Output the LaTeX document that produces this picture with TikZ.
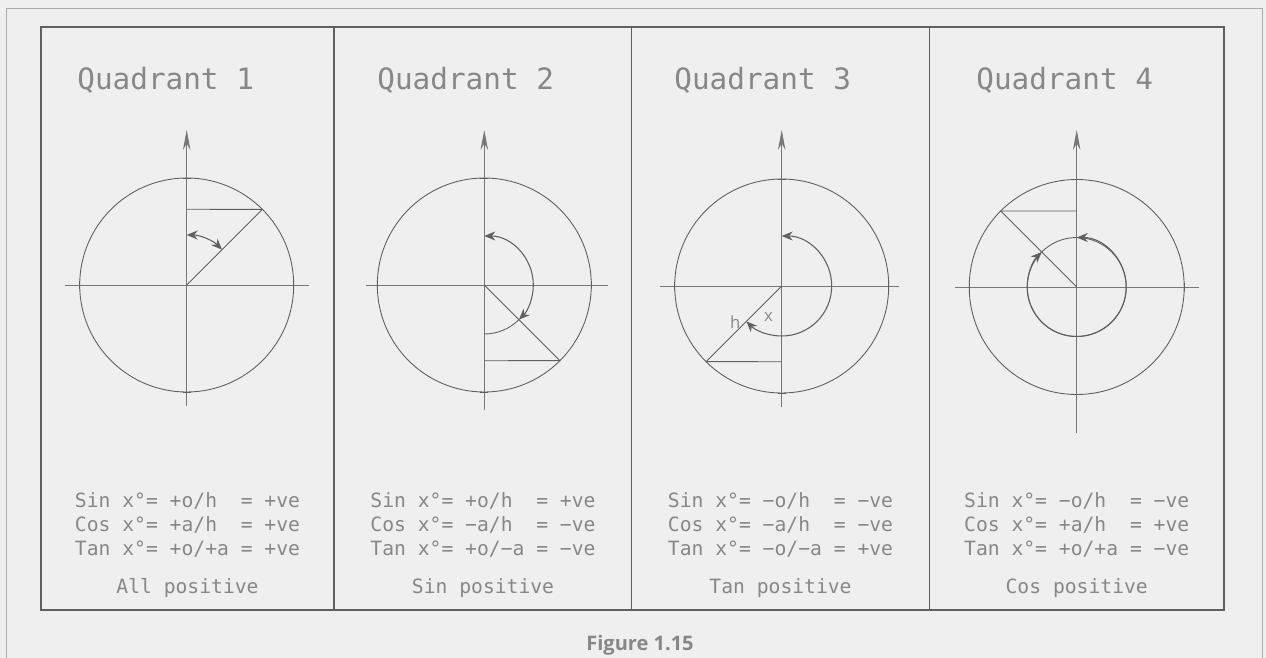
\documentclass[tikz,border=0pt]{standalone}
\usepackage{fontspec}
\setmonofont{DejaVu Sans Mono}
\setsansfont{Open Sans}
\usetikzlibrary{arrows.meta}
\definecolor{PaperGray}{RGB}{239,239,239}
\definecolor{InkGray}{RGB}{95,95,95}
\definecolor{TextGray}{RGB}{135,135,135}
\definecolor{FrameGray}{RGB}{170,170,170}

\begin{document}
\begin{tikzpicture}[
 x=0.02cm, y=0.02cm,
 panel/.style={draw=InkGray, line width=0.6pt},
 circ/.style={draw=InkGray, line width=0.5pt},
 axis/.style={draw=InkGray!85, line width=0.5pt},
 vaxis/.style={axis, -{Stealth[length=4mm, width=1.5mm]}},
 angarc/.style={draw=InkGray, line width=0.6pt, {Stealth[length=2.2mm, width=1.8mm]}-{Stealth[length=2.2mm, width=1.8mm]}},
 title/.style={font=\ttfamily\fontsize{16.7}{20}\selectfont, text=TextGray, anchor=base west, inner sep=0pt},
 rule/.style={font=\ttfamily\fontsize{11.2}{13}\selectfont, text=TextGray, anchor=base, inner sep=0pt},
 lbl/.style={font=\sffamily\fontsize{9.5}{11}\selectfont, text=TextGray, inner sep=0pt},
 caption/.style={font=\sffamily\bfseries\fontsize{11.4}{13}\selectfont, text=TextGray, anchor=base, inner sep=0pt}
]
\useasboundingbox (0,0) rectangle (1266,-658);
\fill[PaperGray] (0,0) rectangle (1266,-658);
\draw[FrameGray, line width=0.5pt] (6,-658) -- (6,-8) -- (1262,-8) -- (1262,-658);
\draw[panel] (41,-27) rectangle (1224,-610);
\draw[panel] (334,-27) -- (334,-610);
\draw[panel] (631.5,-27) -- (631.5,-610);
\draw[panel] (929.5,-27) -- (929.5,-610);

\node[title] (q1title) at (77,-90) {Quadrant 1};
\node[title] (q2title) at (377,-90) {Quadrant 2};
\node[title] (q3title) at (674,-90) {Quadrant 3};
\node[title] (q4title) at (976,-90) {Quadrant 4};

\begin{scope}[shift={(186.7,-285)}]
\draw[circ] (0,0) circle (107);
\draw[axis] (-122,0) -- (122,0);
\draw[vaxis] (0,-121) -- (0,155);
\draw[circ] (-107,-4) -- (-107,4) (107,-4) -- (107,4) (-4,107) -- (4,107) (-4,-107) -- (4,-107);
\draw[circ] (0,0) -- (45:107) -- (0,75.7);
\draw[angarc] (90:50) arc[start angle=90, end angle=45, radius=50];
\end{scope}

\begin{scope}[shift={(484.3,-285)}]
\draw[circ] (0,0) circle (107);
\draw[axis] (-118,0) -- (124,0);
\draw[vaxis] (0,-125) -- (0,155);
\draw[circ] (-107,-4) -- (-107,4) (107,-4) -- (107,4) (-4,107) -- (4,107) (-4,-107) -- (4,-107);
\draw[circ] (0,0) -- (-45:107) -- (0,-75.7);
\draw[angarc] (90:49) arc[start angle=90, end angle=-45, radius=49];
\draw[circ] (-45:49) arc[start angle=-45, end angle=-90, radius=49];
\end{scope}

\begin{scope}[shift={(781.7,-286)}]
\draw[circ] (0,0) circle (107);
\draw[axis] (-122,0) -- (117,0);
\draw[vaxis] (0,-121) -- (0,156);
\draw[circ] (-107,-4) -- (-107,4) (107,-4) -- (107,4) (-4,107) -- (4,107) (-4,-107) -- (4,-107);
\draw[circ] (0,0) -- (225:107) -- (0,-75.7);
\draw[angarc] (90:50) arc[start angle=90, end angle=-135, radius=50];
\node[lbl] (q3h) at (-46.5,-35.7) {h};
\node[lbl] (q3x) at (-13.2,-30.7) {x};
\end{scope}

\begin{scope}[shift={(1076.7,-287)}]
\draw[circ] (0,0) circle (107.5);
\draw[circ] (0,0) circle (49.5);
\draw[axis] (-122,0) -- (122,0);
\draw[vaxis] (0,-146) -- (0,157);
\draw[circ] (-107.5,-4) -- (-107.5,4) (107.5,-4) -- (107.5,4) (-4,107.5) -- (4,107.5) (-4,-107.5) -- (4,-107.5);
\draw[circ] (0,0) -- (135:107.5) -- (0,76);
\draw[angarc] (90:49.5) arc[start angle=90, end angle=-225, radius=49.5];
\end{scope}

\node[rule] (q1sin) at (187.5,-507) {Sin x°= +o/h\ \ = +ve};
\node[rule] (q1cos) at (187.5,-531) {Cos x°= +a/h\ \ = +ve};
\node[rule] (q1tan) at (187.5,-555) {Tan x°= +o/+a = +ve};
\node[rule] (q1sign) at (187.5,-593) {All positive};

\node[rule] (q2sin) at (483,-507) {Sin x°= +o/h\ \ = +ve};
\node[rule] (q2cos) at (483,-531) {Cos x°= −a/h\ \ = −ve};
\node[rule] (q2tan) at (483,-555) {Tan x°= +o/−a = −ve};
\node[rule] (q2sign) at (483,-593) {Sin positive};

\node[rule] (q3sin) at (780.5,-507) {Sin x°= −o/h\ \ = −ve};
\node[rule] (q3cos) at (780.5,-531) {Cos x°= −a/h\ \ = −ve};
\node[rule] (q3tan) at (780.5,-555) {Tan x°= −o/−a = +ve};
\node[rule] (q3sign) at (780.5,-593) {Tan positive};

\node[rule] (q4sin) at (1076.7,-507) {Sin x°= −o/h\ \ = −ve};
\node[rule] (q4cos) at (1076.7,-531) {Cos x°= +a/h\ \ = +ve};
\node[rule] (q4tan) at (1076.7,-555) {Tan x°= +o/+a = −ve};
\node[rule] (q4sign) at (1076.7,-593) {Cos positive};

\node[caption] (figcap) at (640,-650) {Figure 1.15};
\end{tikzpicture}
\end{document}
